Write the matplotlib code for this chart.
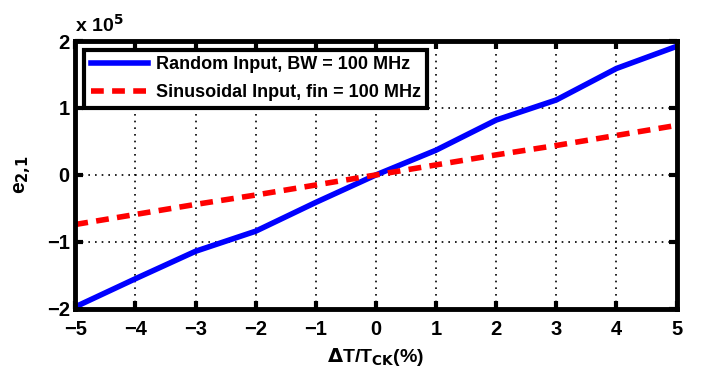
import numpy as np
import matplotlib.pyplot as plt

plt.rcParams['font.family'] = ['Liberation Sans', 'DejaVu Sans']
plt.rcParams['font.weight'] = 'bold'
plt.rcParams['mathtext.default'] = 'bf'

dT = [-5, -4, -3, -2, -1, 0, 1, 2, 3, 4, 5]
# values in units of 1e5
random_bw = [-1.97, -1.55, -1.14, -0.84, -0.41, 0.0, 0.37, 0.82, 1.12, 1.59, 1.92]
sine_fin = [-0.74, -0.59, -0.44, -0.30, -0.15, 0.0, 0.15, 0.30, 0.44, 0.59, 0.74]
labels = ['Random Input, BW = 100 MHz', 'Sinusoidal Input, fin = 100 MHz']

fig = plt.figure(figsize=(7.04, 3.73), dpi=100)
ax = fig.add_axes([0.107, 0.172, 0.854, 0.718])

ax.plot(dT, np.array(random_bw) * 1e5, color='#0000ff', lw=4, label=labels[0])
ax.plot(dT, np.array(sine_fin) * 1e5, color='#ff0000', lw=4, ls=(0, (2.3, 1.5)), label=labels[1])

ax.set_xlim(-5, 5)
ax.set_ylim(-2e5, 2e5)
ax.set_xticks(range(-5, 6))
ax.set_yticks([-2e5, -1e5, 0, 1e5, 2e5])
ax.set_yticklabels(['\u22122', '\u22121', '0', '1', '2'])
ax.set_xticklabels([str(v).replace('-', '\u2212') for v in range(-5, 6)])
ax.grid(True, color='black', ls=(0, (1, 3)), lw=1.2)
ax.tick_params(direction='in', top=True, right=True, length=6, width=3, labelsize=14.5)
ax.tick_params(axis='x', pad=8)
ax.tick_params(axis='y', pad=4)
for s in ax.spines.values():
    s.set_linewidth(3.5)

ax.text(0.0, 1.02, 'x 10$^5$', transform=ax.transAxes, fontsize=14, fontweight='bold', ha='left', va='bottom')
ax.set_xlabel('$\\Delta$T/T$_{CK}$(%)', fontsize=14, fontweight='bold', labelpad=5)
ax.set_ylabel('e$_{2{,}1}$', fontsize=15, fontweight='bold', labelpad=10)

leg = ax.legend(loc='upper left', fontsize=13, frameon=True, fancybox=False,
                edgecolor='black', borderaxespad=0.5, handlelength=3.2,
                handletextpad=0.4, borderpad=0.35, labelspacing=0.6)
leg.get_frame().set_linewidth(3)
leg.get_frame().set_alpha(1)

fig.savefig('out.png', dpi=100)
